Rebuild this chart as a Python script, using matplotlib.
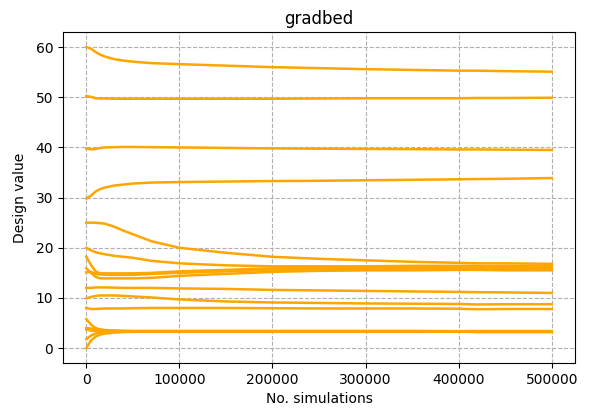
import matplotlib
matplotlib.use("Agg")
import matplotlib.pyplot as plt

# x sample points (number of simulations)
sims = [0, 5000, 10000, 15000, 20000, 30000, 40000, 50000, 70000, 100000,
        150000, 200000, 250000, 300000, 350000, 400000, 420000, 450000, 500000]

d60 = [60.0, 59.7, 59.0, 58.5, 58.1, 57.6, 57.3, 57.1, 56.8, 56.6, 56.3, 56.0, 55.8, 55.6, 55.45, 55.3, 55.3, 55.2, 55.1]
d50 = [50.2, 50.1, 49.8, 49.75, 49.75, 49.7, 49.7, 49.7, 49.7, 49.7, 49.7, 49.7, 49.75, 49.8, 49.8, 49.8, 49.85, 49.85, 49.9]
d40 = [39.8, 39.6, 39.7, 39.9, 40.0, 40.05, 40.1, 40.1, 40.05, 40.0, 39.9, 39.8, 39.75, 39.7, 39.65, 39.6, 39.6, 39.55, 39.5]
d30 = [29.8, 30.4, 31.2, 31.7, 32.0, 32.4, 32.6, 32.8, 33.0, 33.1, 33.2, 33.3, 33.35, 33.45, 33.55, 33.65, 33.7, 33.75, 33.9]
d25 = [25.0, 25.0, 25.0, 24.9, 24.8, 24.2, 23.4, 22.7, 21.3, 20.0, 19.0, 18.2, 17.8, 17.5, 17.2, 17.0, 16.9, 16.9, 16.8]
d20 = [20.0, 19.5, 19.1, 18.9, 18.7, 18.4, 18.2, 18.0, 17.4, 16.9, 16.5, 16.3, 16.3, 16.3, 16.4, 16.4, 16.4, 16.4, 16.4]
d18 = [18.2, 16.6, 15.3, 14.9, 14.9, 14.9, 14.9, 14.9, 15.0, 15.3, 15.6, 15.9, 16.0, 16.2, 16.2, 16.3, 16.3, 16.2, 16.2]
d16 = [15.9, 15.0, 14.2, 13.9, 13.9, 13.9, 13.9, 13.9, 14.0, 14.4, 14.8, 15.2, 15.4, 15.5, 15.5, 15.6, 15.6, 15.5, 15.5]
d15 = [15.1, 15.2, 14.8, 14.7, 14.6, 14.6, 14.6, 14.6, 14.8, 15.0, 15.3, 15.6, 15.7, 15.8, 15.9, 15.9, 15.9, 15.8, 15.8]
d12 = [12.0, 12.0, 12.1, 12.1, 12.1, 12.05, 12.0, 12.0, 12.0, 11.9, 11.8, 11.6, 11.5, 11.4, 11.3, 11.2, 11.15, 11.1, 11.0]
d10 = [9.9, 10.2, 10.4, 10.5, 10.5, 10.5, 10.4, 10.3, 10.1, 9.7, 9.3, 9.1, 9.0, 8.9, 8.85, 8.8, 8.7, 8.75, 8.75]
d8 = [8.0, 7.8, 7.8, 7.85, 7.9, 7.9, 7.9, 7.95, 8.0, 8.0, 8.0, 7.95, 7.9, 7.9, 7.9, 7.85, 7.75, 7.8, 7.8]
d6 = [5.8, 4.7, 4.0, 3.7, 3.55, 3.45, 3.4, 3.4, 3.4, 3.4, 3.4, 3.4, 3.4, 3.4, 3.4, 3.35, 3.3, 3.3, 3.3]
d4 = [4.0, 3.9, 3.8, 3.7, 3.6, 3.5, 3.45, 3.4, 3.4, 3.4, 3.4, 3.4, 3.4, 3.4, 3.4, 3.4, 3.4, 3.4, 3.4]
d3 = [3.7, 3.5, 3.4, 3.35, 3.3, 3.3, 3.3, 3.3, 3.3, 3.3, 3.3, 3.3, 3.3, 3.3, 3.3, 3.3, 3.2, 3.2, 3.2]
d2 = [1.8, 2.5, 2.9, 3.1, 3.2, 3.3, 3.35, 3.35, 3.35, 3.35, 3.35, 3.35, 3.35, 3.35, 3.35, 3.35, 3.3, 3.3, 3.3]
d0 = [0.0, 1.5, 2.3, 2.7, 2.9, 3.1, 3.2, 3.25, 3.3, 3.3, 3.3, 3.3, 3.3, 3.3, 3.3, 3.3, 3.25, 3.25, 3.25]

series = [d60, d50, d40, d30, d25, d20, d18, d16, d15, d12, d10, d8, d6, d4, d3, d2, d0]

title = "gradbed"
xlabel = "No. simulations"
ylabel = "Design value"

fig, ax = plt.subplots(figsize=(5.91, 4.16), dpi=100)
fig.subplots_adjust(left=0.1066, right=0.973, bottom=0.127, top=0.923)

for s in series:
    ax.plot(sims, s, color="orange", linewidth=1.8)

ax.grid(True, linestyle="--", color="#b0b0b0", linewidth=0.8)
ax.set_axisbelow(True)
ax.set_title(title, fontsize=12)
ax.set_xlabel(xlabel)
ax.set_ylabel(ylabel, labelpad=6)
ax.set_xticks([0, 100000, 200000, 300000, 400000, 500000])
ax.ticklabel_format(axis="x", style="plain")

fig.savefig("out.png", dpi=100)
